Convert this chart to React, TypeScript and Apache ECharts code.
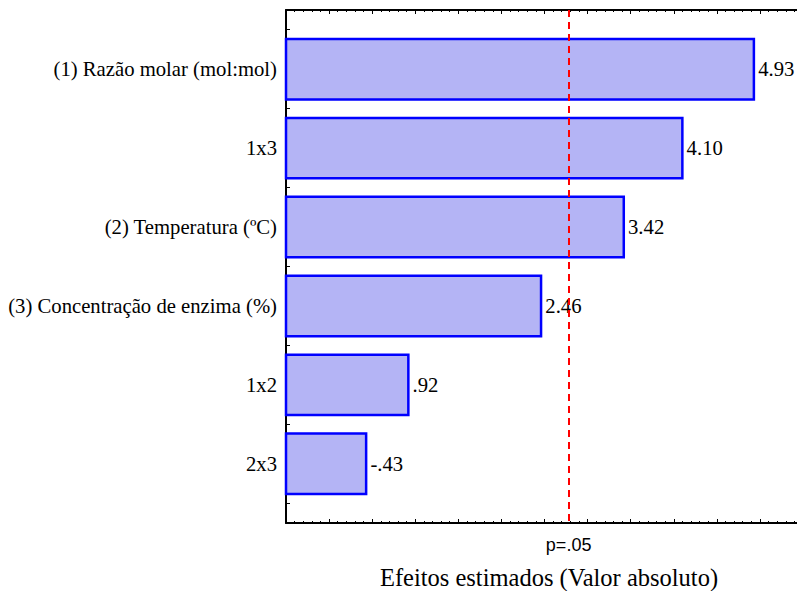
import React, { useEffect, useRef } from "react";
import * as echarts from "echarts";

const categories: string[] = [
  "(1) Razão molar (mol:mol)",
  "1x3",
  "(2) Temperatura (ºC)",
  "(3) Concentração de enzima (%)",
  "1x2",
  "2x3",
];
const effects: number[] = [4.93, 4.1, 3.42, 2.46, 0.92, -0.43];
const effectLabels: string[] = ["4.93", "4.10", "3.42", "2.46", ".92", "-.43"];
const pCritical = 2.776;
const pLabel = "p=.05";
const xTitle = "Efeitos estimados (Valor absoluto)";
const X_MIN = -0.5;
const X_MAX = 5.5;

const SERIF = "Liberation Serif";
const SANS = "Liberation Sans";

export default function App() {
  const ref = useRef<HTMLDivElement>(null);
  useEffect(() => {
    if (!ref.current) return;
    const chart = echarts.init(ref.current, undefined, { renderer: "svg" });
    const data = effects.map((v, i) => [Math.abs(v), i + 1, i]);
    const tickCommon = {
      axisLine: { show: true, onZero: false, lineStyle: { color: "#000", width: 2 } },
      axisTick: { show: true, inside: true, length: 4, lineStyle: { color: "#000", width: 1 } },
      splitLine: { show: false },
    };
    const option: any = {
      animation: false,
      backgroundColor: "#ffffff",
      textStyle: { fontFamily: SERIF },
      grid: {
        left: 286,
        top: 10,
        width: 517,
        height: 513,
        containLabel: false,
        outerBoundsMode: "none",
      },
      xAxis: [
        {
          type: "value",
          position: "bottom",
          min: X_MIN,
          max: X_MAX,
          interval: 0.5,
          ...tickCommon,
          minorTick: { show: true, splitNumber: 5, length: 2, lineStyle: { color: "#000", width: 1 } },
          axisLabel: { show: false },
          name: xTitle,
          nameLocation: "middle",
          nameGap: 42,
          nameTextStyle: {
            fontFamily: SERIF,
            fontSize: 24.5,
            lineHeight: 24,
            color: "#000",
            padding: [0, 0, 0, 9],
          },
        },
        {
          type: "value",
          position: "top",
          min: X_MIN,
          max: X_MAX,
          interval: 0.5,
          ...tickCommon,
          minorTick: { show: true, splitNumber: 5, length: 2, lineStyle: { color: "#000", width: 1 } },
          axisLabel: { show: false },
        },
      ],
      yAxis: {
        type: "value",
        inverse: true,
        min: 0.25,
        max: 6.75,
        interval: 0.25,
        ...tickCommon,
        axisLabel: {
          show: true,
          margin: 9,
          fontFamily: SERIF,
          fontSize: 20.7,
          color: "#000",
          formatter: (v: number) =>
            Number.isInteger(v) && v >= 1 && v <= categories.length ? categories[v - 1] : "",
        },
      },
      series: [
        {
          type: "custom",
          xAxisIndex: 0,
          yAxisIndex: 0,
          data,
          encode: { x: 0, y: 1 },
          z: 2,
          renderItem: (params: any, api: any) => {
            const v = api.value(0);
            const c = api.value(1);
            const idx = api.value(2);
            const start = api.coord([X_MIN, c]);
            const end = api.coord([v, c]);
            const h = api.size([0, 1])[1] * 0.765;
            return {
              type: "rect",
              shape: { x: start[0], y: start[1] - h / 2, width: end[0] - start[0], height: h },
              style: { fill: "#b4b4f5", stroke: "#0000ff", lineWidth: 2.5 },
              textContent: {
                style: {
                  text: effectLabels[idx],
                  fontFamily: SERIF,
                  fontSize: 20.7,
                  fill: "#000",
                },
              },
              textConfig: { position: "right", distance: 3 },
            };
          },
        },
        {
          type: "line",
          xAxisIndex: 0,
          yAxisIndex: 0,
          data: [],
          z: 5,
          markLine: {
            silent: true,
            symbol: "none",
            z: 5,
            lineStyle: { color: "#ff0000", type: [7, 5], width: 2 },
            label: {
              show: true,
              position: "end",
              formatter: pLabel,
              fontFamily: SANS,
              fontSize: 18,
              color: "#000",
              distance: 13,
            },
            data: [{ xAxis: pCritical }],
          },
        },
      ],
    };
    chart.setOption(option);
    return () => chart.dispose();
  }, []);
  return (
    <div
      ref={ref}
      style={{ position: "fixed", left: 0, top: 0, width: 797, height: 591 }}
    />
  );
}
